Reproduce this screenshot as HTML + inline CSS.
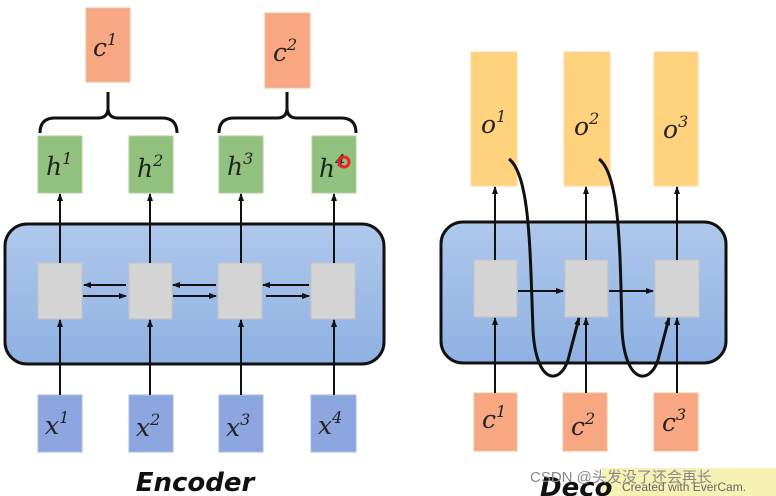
<!DOCTYPE html>
<html><head><meta charset="utf-8"><style>
html,body{margin:0;padding:0;background:#fff;width:776px;height:496px;overflow:hidden}
.m{font-family:"DejaVu Serif","Liberation Serif",serif;font-style:italic}
.t{font-family:"DejaVu Sans","Liberation Sans",sans-serif;font-style:italic;font-weight:bold}
.w{font-family:"Liberation Sans","Noto Sans CJK SC",sans-serif}
</style></head><body>
<svg width="776" height="496" viewBox="0 0 776 496" xmlns="http://www.w3.org/2000/svg">
<defs>
<marker id="a" markerWidth="8" markerHeight="8" refX="7" refY="4" orient="auto" markerUnits="userSpaceOnUse"><path d="M0,1 L8,4 L0,7 Z" fill="#111"/></marker>
<linearGradient id="bl" x1="0" y1="0" x2="0" y2="1"><stop offset="0" stop-color="#afc8ec"/><stop offset="1" stop-color="#8fb1e3"/></linearGradient>
</defs>
<g fill="#f8a783" stroke="#f2c29c">
<rect x="86" y="8" width="44" height="74"/><rect x="265" y="13" width="45" height="75"/>
<rect x="474" y="393" width="43" height="58"/><rect x="563" y="393" width="44" height="58"/><rect x="654" y="393" width="44" height="58"/>
</g>
<g class="m" font-size="25" fill="#222">
<text x="93" y="56">c<tspan font-size="16" dy="-11">1</tspan></text>
<text x="273" y="61">c<tspan font-size="16" dy="-11">2</tspan></text>
<text x="482" y="428">c<tspan font-size="16" dy="-11">1</tspan></text>
<text x="571" y="435">c<tspan font-size="16" dy="-11">2</tspan></text>
<text x="662" y="431">c<tspan font-size="16" dy="-11">3</tspan></text>
</g>
<g fill="none" stroke="#111" stroke-width="3">
<path d="M40,133 Q40,118 55,118 L98,118 Q108,118 108,108 L108,92 M108,108 Q108,118 118,118 L162,118 Q177,118 177,133"/>
<path d="M219,133 Q219,118 234,118 L277,118 Q287,118 287,108 L287,92 M287,108 Q287,118 297,118 L341,118 Q356,118 356,133"/>
</g>
<rect x="5" y="224" width="379" height="140" rx="22" fill="url(#bl)" stroke="#111" stroke-width="3"/>
<rect x="441" y="222" width="285" height="141" rx="22" fill="url(#bl)" stroke="#111" stroke-width="3"/>
<g fill="#92c07f" stroke="#aed39a">
<rect x="38" y="136" width="44" height="57"/><rect x="129" y="136" width="44" height="57"/><rect x="219" y="136" width="44" height="57"/><rect x="312" y="136" width="44" height="57"/>
</g>
<g class="m" font-size="25" fill="#222">
<text x="46" y="175">h<tspan font-size="16" dy="-11">1</tspan></text>
<text x="137" y="177">h<tspan font-size="16" dy="-11">2</tspan></text>
<text x="227" y="175">h<tspan font-size="16" dy="-11">3</tspan></text>
<text x="319" y="177">h<tspan font-size="16" dy="-11">4</tspan></text>
</g>
<circle cx="344" cy="162" r="5" fill="none" stroke="#e22" stroke-width="3"/>
<g fill="#ffd27e" stroke="#fbd9a0">
<rect x="471" y="52" width="46" height="134"/><rect x="564" y="52" width="46" height="134"/><rect x="654" y="52" width="44" height="134"/>
</g>
<g class="m" font-size="25" fill="#222">
<text x="481" y="133">o<tspan font-size="16" dy="-11">1</tspan></text>
<text x="574" y="135">o<tspan font-size="16" dy="-11">2</tspan></text>
<text x="663" y="138">o<tspan font-size="16" dy="-11">3</tspan></text>
</g>
<g fill="#d4d4d4" stroke="#c4c4c4">
<rect x="38" y="263" width="44" height="56"/><rect x="129" y="263" width="43" height="56"/><rect x="218" y="263" width="44" height="56"/><rect x="311" y="263" width="44" height="56"/>
<rect x="474" y="260" width="43" height="57"/><rect x="565" y="260" width="43" height="57"/><rect x="655" y="260" width="44" height="57"/>
</g>
<g fill="#8ea6df" stroke="#a5b8e6">
<rect x="38" y="395" width="44" height="57"/><rect x="129" y="395" width="44" height="57"/><rect x="219" y="395" width="44" height="57"/><rect x="311" y="395" width="45" height="57"/>
</g>
<g class="m" font-size="25" fill="#222">
<text x="45" y="434">x<tspan font-size="16" dy="-11">1</tspan></text>
<text x="136" y="436">x<tspan font-size="16" dy="-11">2</tspan></text>
<text x="226" y="436">x<tspan font-size="16" dy="-11">3</tspan></text>
<text x="318" y="434">x<tspan font-size="16" dy="-11">4</tspan></text>
</g>
<g stroke="#111" stroke-width="2" fill="none" marker-end="url(#a)">
<line x1="60" y1="263" x2="60" y2="194"/><line x1="150" y1="263" x2="150" y2="194"/><line x1="241" y1="263" x2="241" y2="194"/><line x1="334" y1="263" x2="334" y2="194"/>
<line x1="60" y1="395" x2="60" y2="320"/><line x1="150" y1="395" x2="150" y2="320"/><line x1="241" y1="395" x2="241" y2="320"/><line x1="334" y1="395" x2="334" y2="320"/>
<line x1="126" y1="285" x2="84" y2="285"/><line x1="83" y1="296" x2="126" y2="296"/>
<line x1="216" y1="285" x2="173" y2="285"/><line x1="173" y1="296" x2="216" y2="296"/>
<line x1="309" y1="285" x2="263" y2="285"/><line x1="266" y1="296" x2="309" y2="296"/>
<line x1="495" y1="260" x2="495" y2="187"/><line x1="586" y1="260" x2="586" y2="187"/><line x1="677" y1="260" x2="677" y2="187"/>
<line x1="495" y1="393" x2="495" y2="318"/><line x1="586" y1="393" x2="586" y2="318"/><line x1="677" y1="393" x2="677" y2="318"/>
<line x1="518" y1="291" x2="563" y2="291"/><line x1="609" y1="291" x2="653" y2="291"/>
</g>
<g stroke="#111" stroke-width="3" fill="none" marker-end="url(#a)">
<path d="M509,159 C530,175 530,250 533,330 C536,385 560,385 568,360 L579,318"/>
<path d="M599,159 C620,175 620,250 622,330 C625,385 650,385 658,360 L669,318"/>
</g>
<text class="t" x="195" y="491" text-anchor="middle" font-size="26" fill="#111">Encoder</text>
<rect x="602" y="468" width="174" height="28" fill="#f6f2b4"/>
<text class="t" x="540" y="496" font-size="26" fill="#111">Deco</text>
<text class="w" x="530" y="482" font-size="15" fill="#888">CSDN @头发没了还会再长</text>
<text class="w" x="622" y="491" font-size="12" fill="#666">Created with EverCam.</text>
</svg>
</body></html>
